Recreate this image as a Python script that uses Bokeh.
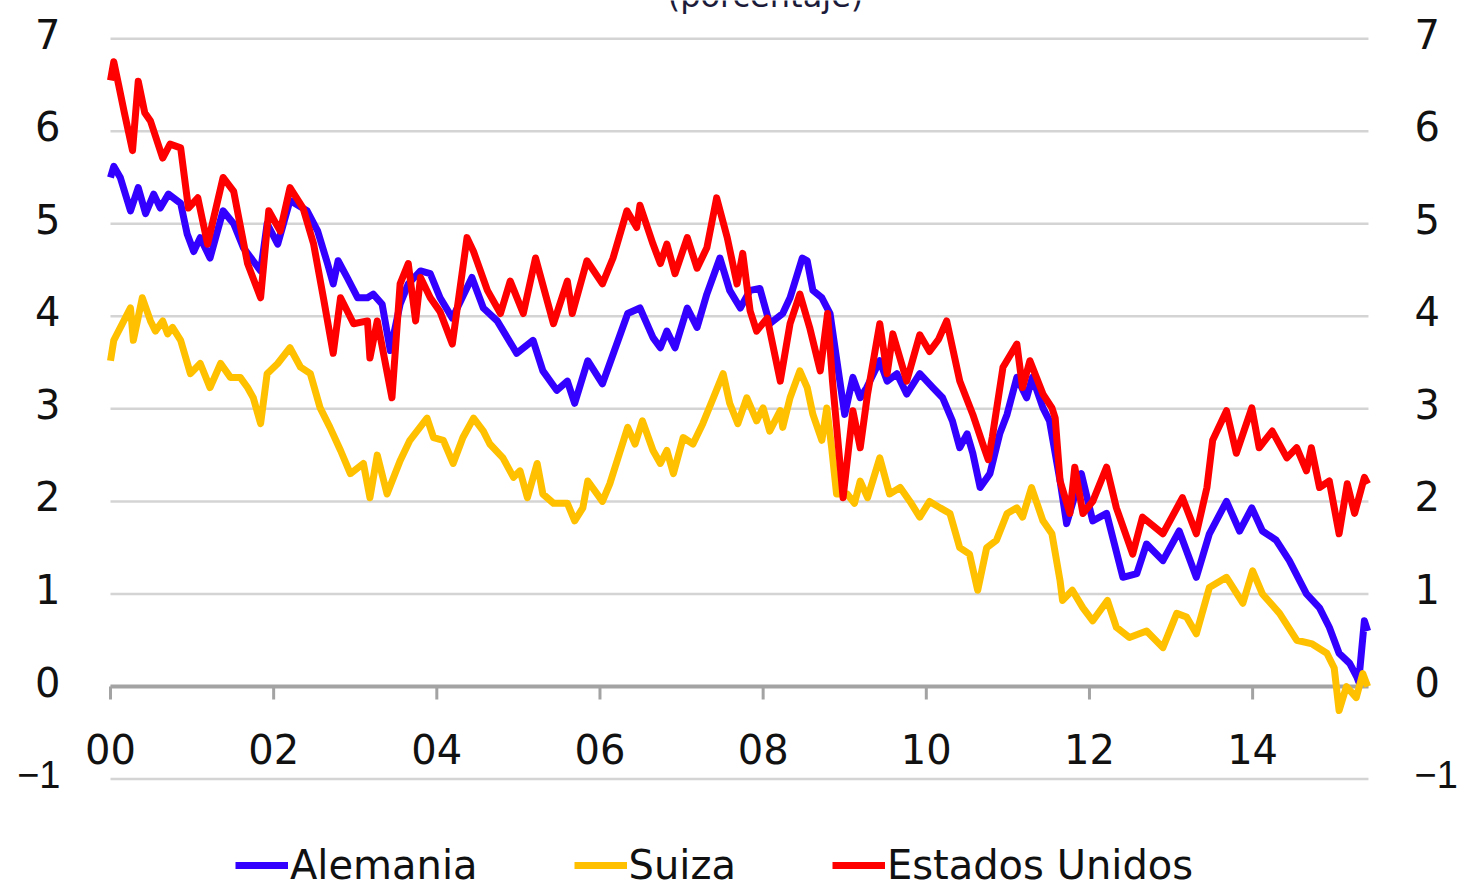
from bokeh.plotting import figure
from bokeh.models import Range1d, ColumnDataSource, Legend, LegendItem
from bokeh.core.properties import value
from bokeh.embed import file_html
from bokeh.resources import INLINE

FONT = "DejaVu Sans"
NARROW_FONT = "Liberation Sans"   # narrower minus sign for the "−1" labels

# ---- data (10-year government bond yields, %) ----
us_t = [2000.00, 2000.04, 2000.10, 2000.17, 2000.27, 2000.34, 2000.42, 2000.49, 2000.64, 2000.73,
        2000.86, 2000.955, 2001.07, 2001.19, 2001.38, 2001.51, 2001.68, 2001.84, 2001.94, 2002.08,
        2002.20, 2002.36, 2002.49, 2002.61, 2002.73, 2002.82, 2002.98, 2003.15, 2003.18, 2003.27,
        2003.45, 2003.55, 2003.65, 2003.74, 2003.80, 2003.92, 2004.04, 2004.19, 2004.37, 2004.45,
        2004.62, 2004.78, 2004.90, 2005.06, 2005.21, 2005.43, 2005.60, 2005.66, 2005.84, 2006.03,
        2006.16, 2006.33, 2006.45, 2006.49, 2006.65, 2006.74, 2006.82, 2006.92, 2007.07, 2007.19,
        2007.31, 2007.43, 2007.56, 2007.68, 2007.75, 2007.84, 2007.92, 2008.05, 2008.21, 2008.33,
        2008.45, 2008.57, 2008.70, 2008.79, 2008.85, 2008.98, 2009.10, 2009.19, 2009.28, 2009.43,
        2009.52, 2009.59, 2009.76, 2009.83, 2009.92, 2010.04, 2010.15, 2010.25, 2010.41, 2010.57,
        2010.70, 2010.76, 2010.81, 2010.94, 2011.11, 2011.18, 2011.27, 2011.43, 2011.54, 2011.58,
        2011.64, 2011.76, 2011.82, 2011.92, 2012.04, 2012.21, 2012.33, 2012.53, 2012.65, 2012.90,
        2013.14, 2013.31, 2013.44, 2013.51, 2013.68, 2013.80, 2013.99, 2014.08, 2014.24, 2014.42,
        2014.54, 2014.66, 2014.72, 2014.82, 2014.94, 2015.06, 2015.16, 2015.25, 2015.37, 2015.41]
us_v = [6.55, 6.75, 6.50, 6.20, 5.79, 6.54, 6.20, 6.11, 5.71, 5.86,
        5.82, 5.17, 5.28, 4.78, 5.50, 5.35, 4.57, 4.20, 5.14, 4.92,
        5.39, 5.17, 4.78, 4.20, 3.60, 4.20, 3.92, 3.95, 3.55, 3.95,
        3.12, 4.35, 4.57, 3.95, 4.42, 4.20, 4.05, 3.70, 4.85, 4.70,
        4.28, 4.03, 4.38, 4.03, 4.63, 3.92, 4.38, 4.03, 4.60, 4.35,
        4.63, 5.14, 4.96, 5.20, 4.78, 4.57, 4.78, 4.46, 4.85, 4.52,
        4.74, 5.28, 4.85, 4.35, 4.68, 4.06, 3.84, 3.98, 3.30, 3.92,
        4.24, 3.88, 3.41, 4.03, 3.30, 2.04, 2.98, 2.58, 3.16, 3.92,
        3.38, 3.81, 3.30, 3.52, 3.80, 3.62, 3.75, 3.95, 3.30, 2.94,
        2.60, 2.45, 2.70, 3.45, 3.70, 3.23, 3.52, 3.16, 3.01, 2.90,
        2.22, 1.87, 2.37, 1.87, 2.00, 2.37, 1.93, 1.43, 1.83, 1.65,
        2.04, 1.65, 2.15, 2.66, 2.98, 2.52, 3.01, 2.58, 2.76, 2.47,
        2.58, 2.33, 2.58, 2.15, 2.22, 1.65, 2.19, 1.87, 2.26, 2.19]

de_t = [2000.00, 2000.04, 2000.12, 2000.245, 2000.34, 2000.43, 2000.53, 2000.61, 2000.71, 2000.86,
        2000.94, 2001.02, 2001.10, 2001.22, 2001.38, 2001.51, 2001.63, 2001.84, 2001.92, 2002.05,
        2002.20, 2002.41, 2002.54, 2002.66, 2002.73, 2002.79, 2002.90, 2003.03, 2003.15, 2003.22,
        2003.33, 2003.43, 2003.55, 2003.65, 2003.80, 2003.92, 2004.04, 2004.19, 2004.43, 2004.57,
        2004.74, 2004.98, 2005.18, 2005.30, 2005.47, 2005.60, 2005.69, 2005.85, 2006.03, 2006.12,
        2006.34, 2006.49, 2006.65, 2006.74, 2006.82, 2006.92, 2007.07, 2007.19, 2007.31, 2007.47,
        2007.59, 2007.72, 2007.84, 2007.96, 2008.08, 2008.24, 2008.33, 2008.48, 2008.54, 2008.61,
        2008.72, 2008.82, 2008.94, 2009.00, 2009.10, 2009.19, 2009.27, 2009.43, 2009.52, 2009.64,
        2009.76, 2009.92, 2010.08, 2010.20, 2010.32, 2010.41, 2010.50, 2010.57, 2010.66, 2010.78,
        2010.90, 2010.99, 2011.11, 2011.23, 2011.30, 2011.43, 2011.51, 2011.64, 2011.72, 2011.90,
        2012.04, 2012.21, 2012.41, 2012.58, 2012.70, 2012.90, 2013.10, 2013.31, 2013.47, 2013.68,
        2013.84, 2013.99, 2014.12, 2014.29, 2014.45, 2014.66, 2014.82, 2014.94, 2015.06, 2015.19,
        2015.28, 2015.30, 2015.37, 2015.41]
de_v = [5.50, 5.62, 5.50, 5.14, 5.39, 5.11, 5.32, 5.17, 5.32, 5.22,
        4.89, 4.70, 4.85, 4.63, 5.14, 5.00, 4.74, 4.49, 5.00, 4.78,
        5.25, 5.14, 4.92, 4.57, 4.35, 4.60, 4.42, 4.20, 4.20, 4.24,
        4.13, 3.63, 4.13, 4.35, 4.49, 4.46, 4.20, 3.98, 4.42, 4.09,
        3.95, 3.60, 3.74, 3.41, 3.20, 3.30, 3.06, 3.52, 3.27, 3.49,
        4.03, 4.09, 3.77, 3.66, 3.84, 3.66, 4.09, 3.88, 4.24, 4.63,
        4.28, 4.09, 4.28, 4.30, 3.92, 4.03, 4.20, 4.63, 4.60, 4.28,
        4.20, 4.03, 3.30, 2.94, 3.34, 3.12, 3.23, 3.52, 3.30, 3.38,
        3.16, 3.38, 3.23, 3.12, 2.87, 2.58, 2.73, 2.52, 2.15, 2.30,
        2.73, 2.94, 3.34, 3.12, 3.34, 3.01, 2.87, 2.22, 1.76, 2.30,
        1.79, 1.87, 1.18, 1.22, 1.54, 1.36, 1.68, 1.18, 1.65, 2.00,
        1.68, 1.93, 1.68, 1.58, 1.36, 1.00, 0.85, 0.64, 0.36, 0.25,
        0.10, 0.05, 0.71, 0.60]

ch_t = [2000.00, 2000.04, 2000.245, 2000.28, 2000.39, 2000.49, 2000.55, 2000.64, 2000.70, 2000.76,
        2000.86, 2000.98, 2001.10, 2001.22, 2001.35, 2001.47, 2001.59, 2001.68, 2001.75, 2001.84,
        2001.92, 2002.05, 2002.20, 2002.33, 2002.45, 2002.57, 2002.69, 2002.82, 2002.94, 2003.10,
        2003.18, 2003.27, 2003.39, 2003.55, 2003.67, 2003.88, 2003.96, 2004.08, 2004.20, 2004.32,
        2004.45, 2004.57, 2004.65, 2004.81, 2004.94, 2005.02, 2005.11, 2005.23, 2005.30, 2005.43,
        2005.60, 2005.69, 2005.79, 2005.85, 2006.03, 2006.12, 2006.25, 2006.34, 2006.43, 2006.52,
        2006.65, 2006.74, 2006.82, 2006.90, 2007.02, 2007.14, 2007.26, 2007.39, 2007.51, 2007.59,
        2007.69, 2007.80, 2007.92, 2008.00, 2008.08, 2008.21, 2008.24, 2008.33, 2008.45, 2008.54,
        2008.61, 2008.72, 2008.78, 2008.84, 2008.90, 2009.03, 2009.12, 2009.19, 2009.28, 2009.43,
        2009.55, 2009.68, 2009.80, 2009.92, 2010.04, 2010.17, 2010.29, 2010.41, 2010.53, 2010.63,
        2010.74, 2010.86, 2010.99, 2011.11, 2011.18, 2011.29, 2011.43, 2011.54, 2011.64, 2011.67,
        2011.79, 2011.92, 2012.04, 2012.22, 2012.33, 2012.49, 2012.70, 2012.90, 2013.07, 2013.19,
        2013.31, 2013.47, 2013.68, 2013.88, 2014.00, 2014.12, 2014.33, 2014.54, 2014.73, 2014.91,
        2015.00, 2015.06, 2015.15, 2015.27, 2015.35, 2015.41]
ch_v = [3.52, 3.74, 4.09, 3.74, 4.20, 3.95, 3.84, 3.95, 3.81, 3.88,
        3.74, 3.38, 3.49, 3.23, 3.49, 3.34, 3.34, 3.23, 3.12, 2.84,
        3.38, 3.49, 3.66, 3.45, 3.38, 3.01, 2.80, 2.55, 2.30, 2.41,
        2.04, 2.50, 2.08, 2.44, 2.66, 2.90, 2.69, 2.66, 2.41, 2.69,
        2.90, 2.76, 2.62, 2.47, 2.26, 2.33, 2.04, 2.41, 2.08, 1.98,
        1.98, 1.79, 1.93, 2.22, 2.00, 2.19, 2.55, 2.80, 2.62, 2.87,
        2.55, 2.41, 2.55, 2.30, 2.69, 2.62, 2.84, 3.12, 3.38, 3.06,
        2.84, 3.12, 2.87, 3.01, 2.76, 2.98, 2.80, 3.12, 3.41, 3.23,
        2.94, 2.66, 3.01, 2.58, 2.08, 2.08, 1.98, 2.22, 2.04, 2.47,
        2.08, 2.15, 2.00, 1.83, 2.00, 1.93, 1.87, 1.50, 1.43, 1.04,
        1.50, 1.58, 1.87, 1.93, 1.83, 2.15, 1.79, 1.65, 1.14, 0.93,
        1.04, 0.85, 0.71, 0.93, 0.64, 0.53, 0.60, 0.42, 0.79, 0.75,
        0.57, 1.07, 1.18, 0.90, 1.25, 1.00, 0.79, 0.50, 0.46, 0.36,
        0.20, -0.26, 0.00, -0.12, 0.14, 0.00]

series_names = ["Alemania", "Suiza", "Estados Unidos"]
series_colors = ["#3300ff", "#ffc000", "#ff0000"]
title_text = "(porcentaje)"

x_ticks = [2000, 2002, 2004, 2006, 2008, 2010, 2012, 2014]
x_tick_labels = ["00", "02", "04", "06", "08", "10", "12", "14"]
y_ticks = [-1, 0, 1, 2, 3, 4, 5, 6, 7]
y_tick_labels = ["\u22121", "0", "1", "2", "3", "4", "5", "6", "7"]

# ---- layout constants (pixels) ----
W, H = 1460, 883
PX_YEAR = 81.58          # pixels per year
PX_UNIT = 92.55          # pixels per percentage point
LEFT_PX = 110            # canvas x of the start of the plot area
ZERO_PX = 686            # canvas y (from top) of the zero line
X0, X_END = 2000.0, 2015.42

x_start = X0 - LEFT_PX / PX_YEAR
y_start = -(H - ZERO_PX) / PX_UNIT
y_top = y_start + H / PX_UNIT

p = figure(width=W, height=H, output_backend="svg", toolbar_location=None,
           x_range=Range1d(x_start, x_start + W / PX_YEAR),
           y_range=Range1d(y_start, y_top),
           x_axis_location=None, y_axis_location=None, min_border=0)
p.grid.visible = False
p.outline_line_color = None
p.background_fill_color = "white"
p.border_fill_color = "white"

# title (cut off at the top edge, as in the original)
p.text(x=[X0 + (765 - LEFT_PX) / PX_YEAR], y=[y_top], text=[title_text], y_offset=-5,
       text_align="center", text_baseline="alphabetic", text_font=value(FONT),
       text_font_size="32px", text_color="#1c1c3a")

# horizontal grid lines
p.segment(x0=X0, x1=X_END, y0=y_ticks, y1=y_ticks, line_color="#d4d4d4", line_width=2.5)

# x axis at zero
p.segment(x0=X0, x1=X_END, y0=0, y1=0, line_color="#a3a3a3", line_width=4)
p.segment(x0=x_ticks, x1=x_ticks, y0=0, y1=-13 / PX_UNIT, line_color="#a3a3a3", line_width=3)
p.text(x=x_ticks, y=0, text=x_tick_labels, y_offset=62, text_align="center",
       text_baseline="middle", text_font=value(FONT), text_font_size="40px",
       text_color="#111111")

# y tick labels on both sides
y_fonts = [NARROW_FONT if t < 0 else FONT for t in y_ticks]
y_sizes = ["38px" if t < 0 else "40px" for t in y_ticks]
ysrc = ColumnDataSource(dict(y=y_ticks, text=y_tick_labels, font=y_fonts, size=y_sizes))
p.text(x=X0, y="y", text="text", source=ysrc, x_offset=-50, y_offset=-5,
       text_align="right", text_baseline="middle", text_font="font",
       text_font_size="size", text_color="#111111")
p.text(x=X_END, y="y", text="text", source=ysrc, x_offset=46, y_offset=-5,
       text_align="left", text_baseline="middle", text_font="font",
       text_font_size="size", text_color="#111111")

# series
r_de = p.line(de_t, de_v, line_color=series_colors[0], line_width=7, line_join="round")
r_ch = p.line(ch_t, ch_v, line_color=series_colors[1], line_width=7, line_join="round")
r_us = p.line(us_t, us_v, line_color=series_colors[2], line_width=7, line_join="round")

legend = Legend(items=[LegendItem(label=n, renderers=[r])
                       for n, r in zip(series_names, [r_de, r_ch, r_us])],
                orientation="horizontal", location=(235, -12),
                glyph_width=53, glyph_height=60, label_height=50,
                label_standoff=2, spacing=96,
                padding=0, margin=0, border_line_color=None, background_fill_alpha=0,
                label_text_font=FONT, label_text_font_size="40px",
                label_text_color="#111111")
p.add_layout(legend)

open("out.html", "w").write(file_html(p, INLINE))
